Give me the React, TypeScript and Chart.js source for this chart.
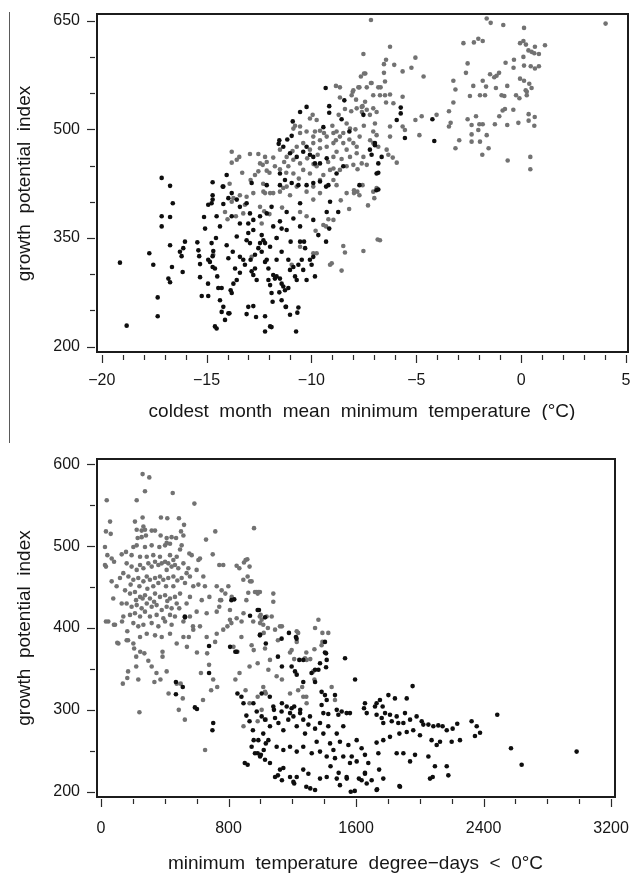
import React, { useEffect, useRef } from 'react';
import { Chart, registerables } from 'chart.js';

Chart.register(...registerables);

// ---------- Panel A: coldest month mean minimum temperature vs growth potential index ----------
const coldXTicks = [-20, -19, -18, -17, -16, -15, -14, -13, -12, -11, -10, -9, -8, -7, -6, -5, -4, -3, -2, -1, 0, 1, 2, 3, 4, 5];
const coldXLabels = [-20, -15, -10, -5, 0, 5];
const coldYTicks = [200, 250, 300, 350, 400, 450, 500, 550, 600, 650];
const coldYLabels = [200, 350, 500, 650];

const coldBlack: [number, number][] = [
  [-19.13, 316], [-18.81, 229], [-17.73, 329], [-17.54, 313], [-17.33, 268], [-17.33, 242], [-17.14, 380], [-17.14, 366],
  [-16.74, 379], [-16.74, 340], [-16.82, 294], [-16.74, 289], [-16.65, 310], [-16.61, 398], [-16.27, 331], [-16.19, 325],
  [-16.11, 336], [-16.03, 345], [-16.14, 303], [-17.14, 433], [-16.74, 422],
  [-15.44, 344], [-15.39, 333], [-15.35, 325], [-15.31, 314], [-15.31, 296], [-15.23, 270], [-15.12, 379], [-15.07, 363], [-14.93, 287],
  [-14.92, 320], [-14.84, 317], [-14.71, 310], [-14.68, 332], [-14.71, 325], [-14.6, 308], [-14.49, 297], [-14.44, 281], [-14.36, 264],
  [-14.28, 281], [-14.2, 255], [-14.12, 237], [-13.96, 246], [-13.85, 278], [-13.8, 274], [-13.72, 287], [-13.64, 308], [-13.56, 292],
  [-13.41, 324], [-13.41, 302], [-13.25, 320], [-13.17, 313], [-13.09, 347], [-13.01, 357], [-12.93, 343], [-12.9, 320], [-12.85, 304],
  [-12.77, 299], [-12.69, 308], [-12.61, 292], [-12.53, 336], [-12.45, 343], [-12.37, 331], [-12.29, 347], [-12.21, 343], [-12.21, 317],
  [-12.13, 320], [-12.05, 308], [-12.05, 292], [-11.97, 285], [-11.9, 274], [-11.85, 262], [-11.82, 299], [-11.74, 294], [-11.66, 297],
  [-11.5, 294], [-11.42, 287], [-11.34, 283], [-11.26, 278], [-11.21, 255], [-11.1, 281], [-11.02, 306], [-10.86, 310], [-10.78, 297],
  [-10.7, 292], [-10.62, 313], [-10.54, 345], [-10.46, 320], [-10.39, 306], [-10.35, 345], [-10.23, 292], [-10.07, 320], [-9.99, 313],
  [-9.91, 324], [-9.83, 297], [-9.67, 354], [-9.3, 345], [-9.15, 363],
  [-14.76, 343], [-14.55, 350], [-14.04, 340], [-13.56, 352], [-13.96, 322], [-13.75, 331], [-12.69, 327], [-12.37, 354], [-11.97, 338],
  [-11.66, 320], [-11.42, 331], [-11.1, 320], [-10.99, 345], [-10.3, 336], [-11.66, 350], [-12.77, 375], [-13.41, 370], [-13.8, 380],
  [-11.18, 361], [-10.54, 366],
  [-14.71, 409], [-14.76, 398], [-14.92, 396], [-14.52, 380], [-14.36, 366], [-14.2, 397], [-13.96, 405], [-13.56, 403], [-13.41, 393],
  [-13.09, 398], [-12.93, 384], [-13.01, 370], [-12.77, 361], [-12.45, 380], [-12.13, 384], [-11.9, 393], [-11.82, 366], [-11.5, 373],
  [-11.42, 363], [-11.18, 386], [-10.86, 377], [-10.54, 398], [-9.91, 375], [-9.27, 386], [-9.11, 400], [-8.72, 386], [-9.3, 421],
  [-11.5, 423], [-12.13, 423], [-12.85, 426], [-14.2, 421],
  [-14.92, 270], [-14.6, 228], [-14.52, 225], [-14.28, 248], [-13.91, 246], [-13.09, 245], [-13.01, 255], [-12.77, 256], [-12.64, 241],
  [-12.21, 242], [-12.21, 221], [-11.97, 228], [-11.9, 227], [-11.53, 275], [-11.42, 264], [-11.23, 255], [-11.02, 244], [-10.73, 221],
  [-10.67, 247], [-10.62, 254],
  [-7.71, 423], [-6.9, 416],
  [-9.32, 557], [-8.43, 540], [-10.23, 531], [-10.54, 524], [-9.15, 532], [-9.15, 523], [-10.89, 511], [-9.43, 503], [-8.56, 514],
  [-8.19, 497], [-6.97, 481], [-7.21, 472], [-6.89, 439], [-11.53, 485], [-11.15, 486], [-10.94, 491], [-11.56, 480], [-11.34, 476],
  [-11.02, 467], [-10.7, 462], [-10.39, 469], [-10.07, 465], [-9.83, 453], [-9.59, 453], [-10.23, 476], [-9.91, 462], [-9.27, 460],
  [-14.04, 437], [-14.71, 427], [-14.23, 421], [-13.8, 412], [-11.5, 439], [-11.26, 430], [-10.94, 426], [-10.62, 423], [-10.23, 423],
  [-9.91, 426], [-9.59, 428], [-9.19, 423], [-14.71, 403], [-8.8, 439], [-8.48, 449],
  [-5.74, 530], [-5.74, 522], [-5.93, 513], [-5.54, 488], [-4.23, 514], [-4.14, 484], [-7.52, 520], [-6.97, 478], [-7.13, 465],
  [-6.65, 462], [-6.81, 453], [-6.81, 440], [-6.81, 417],
];

const coldGray: [number, number][] = [
  [-7.16, 651], [-7.52, 604], [-7.64, 573], [-7.43, 577], [-7.13, 564], [-6.81, 558], [-8.83, 560], [-8.64, 558], [-8.03, 552],
  [-7.71, 558], [-7.36, 558], [-8.64, 544], [-7.87, 541], [-7.56, 532], [-7.44, 538], [-7.59, 524], [-7.36, 527], [-7.21, 520],
  [-7.05, 529], [-6.89, 524], [-9.94, 520], [-10.07, 515], [-10.78, 505], [-10.54, 504], [-9.75, 513], [-9.83, 497], [-9.59, 498],
  [-8.32, 508], [-8.16, 501], [-8.8, 497], [-8.95, 495], [-8.64, 490], [-8.48, 495], [-8.83, 485], [-8.95, 481], [-8.48, 481],
  [-8.19, 486], [-8.0, 481], [-7.84, 476], [-8.32, 472], [-8.8, 469], [-8.95, 462], [-8.56, 459], [-8.16, 462], [-7.84, 467],
  [-7.52, 462], [-7.6, 453], [-7.36, 451], [-8.0, 451], [-8.32, 449], [-8.64, 444], [-8.95, 446], [-7.05, 497], [-6.89, 492], [-6.97, 508],
  [-10.86, 501], [-10.54, 495], [-10.23, 497], [-9.91, 490], [-9.59, 485], [-9.27, 490], [-9.91, 481], [-9.59, 474], [-9.27, 476],
  [-10.39, 481], [-10.7, 476], [-10.07, 472],
  [-12.0, 440], [-11.3, 455], [-10.9, 470], [-10.2, 460], [-9.7, 465], [-9.4, 495], [-9.0, 505], [-8.7, 520], [-8.4, 528], [-8.1, 525],
  [-7.9, 500], [-7.7, 490], [-7.5, 505], [-7.2, 485], [-7.8, 445], [-9.2, 455], [-9.9, 452], [-10.6, 432], [-11.2, 440], [-12.3, 425],
  [-12.9, 430], [-13.3, 440], [-13.9, 425],
  [-13.8, 469], [-13.8, 454], [-13.44, 462], [-13.56, 458], [-12.93, 466], [-12.53, 466], [-12.21, 462], [-12.13, 455], [-11.82, 461],
  [-11.5, 472], [-11.18, 462], [-10.86, 458], [-10.54, 453], [-11.1, 449], [-10.86, 439], [-11.5, 445], [-11.74, 449], [-12.13, 443],
  [-12.53, 442], [-12.69, 437], [-12.32, 451], [-12.45, 453],
  [-10.39, 444], [-10.07, 439], [-9.75, 449], [-9.43, 437], [-9.11, 444], [-8.95, 430], [-9.59, 430], [-9.91, 421], [-10.23, 414],
  [-10.7, 421], [-11.18, 421], [-11.5, 414], [-11.97, 412], [-12.29, 414], [-12.77, 412], [-13.09, 407], [-13.41, 409], [-13.72, 405],
  [-14.12, 386], [-13.8, 400], [-13.17, 396], [-13.25, 384], [-12.45, 393], [-12.21, 412], [-11.82, 412], [-11.34, 419], [-11.02, 409],
  [-10.54, 386], [-10.23, 380], [-9.91, 403], [-9.59, 412], [-8.8, 423], [-8.32, 412], [-8.95, 375], [-9.43, 368], [-9.19, 376],
  [-14.68, 327], [-12.85, 324], [-12.37, 370], [-11.66, 350], [-10.94, 313], [-10.54, 338], [-9.91, 329], [-9.75, 329],
  [-7.97, 412], [-7.81, 414], [-7.56, 423], [-7.05, 414], [-6.73, 347], [-8.48, 339], [-8.4, 330], [-7.52, 332], [-8.56, 305],
  [-9.11, 313], [-9.03, 315],
  [-14.0, 376], [-13.6, 380], [-12.25, 387], [-12.0, 383], [-9.3, 366], [-9.8, 360], [-11.4, 392], [-8.6, 402], [-8.2, 390],
  [-7.3, 395], [-7.0, 405],
  [-6.25, 614], [-6.44, 596], [-6.54, 590], [-6.05, 589], [-5.04, 599], [-5.23, 585], [-5.65, 580], [-4.65, 573], [-7.49, 577],
  [-6.54, 578], [-7.16, 564], [-7.76, 558], [-6.7, 558], [-6.49, 566], [-6.73, 547], [-7.05, 547], [-6.49, 547], [-6.25, 548],
  [-6.09, 536], [-6.44, 537], [-7.6, 531], [-7.84, 529], [-8.0, 554], [-8.08, 547],
  [-5.65, 545], [-4.74, 518], [-5.04, 513], [-4.85, 492], [-4.03, 520], [-5.65, 504], [-5.54, 499], [-6.25, 504], [-6.25, 490],
  [-6.12, 461], [-5.93, 454], [-6.41, 472], [-6.33, 465], [-7.05, 481], [-6.81, 476],
  [-7.97, 416], [-7.71, 409], [-6.89, 419], [-6.84, 348],
  [-1.64, 653], [-1.45, 647], [-0.85, 644], [0.14, 640], [-2.75, 619], [-2.25, 620], [-2.04, 625], [-1.83, 622], [-0.05, 619],
  [0.11, 622], [0.23, 617], [0.35, 609], [0.5, 607], [0.66, 614], [0.63, 605], [0.85, 604], [1.14, 616], [0.11, 600],
  [-2.55, 591], [-2.63, 578], [-0.74, 592], [-0.34, 596], [-0.36, 585], [0.14, 588], [0.46, 587], [0.66, 584], [0.85, 587],
  [-3.23, 567], [-3.13, 555], [-2.28, 560], [-1.83, 567], [-1.67, 559], [-1.96, 547], [-1.72, 547], [-2.44, 546], [-1.48, 576],
  [-1.28, 572], [-1.17, 574], [-1.05, 578], [-1.2, 557], [-0.93, 547], [-0.8, 546], [-0.66, 560], [-0.24, 547], [-0.08, 543],
  [-0.05, 570], [0.14, 567], [0.22, 554], [0.39, 563], [0.5, 557], [0.27, 547], [0.27, 552],
  [-3.23, 537], [-3.44, 525], [-3.36, 509], [-3.44, 504], [-2.95, 485], [-3.13, 474], [-2.55, 514], [-2.15, 518], [-2.36, 506],
  [-1.99, 507], [-1.83, 507], [-2.04, 499], [-2.36, 493], [-2.36, 483], [-1.96, 483], [-1.64, 492], [-1.85, 465], [-1.55, 474],
  [-1.25, 507], [-1.04, 518], [-0.88, 526], [-0.77, 528], [-0.37, 527], [-0.66, 506], [-0.13, 509], [0.36, 521], [0.65, 517],
  [0.36, 512], [0.63, 505], [-0.64, 457], [0.44, 462], [0.44, 445],
  [4.03, 646],
];

// ---------- Panel B: minimum temperature degree-days < 0°C vs growth potential index ----------
const ddXTicks = [0, 200, 400, 600, 800, 1000, 1200, 1400, 1600, 1800, 2000, 2200, 2400, 2600, 2800, 3000, 3200];
const ddXLabels = [0, 800, 1600, 2400, 3200];
const ddYTicks = [200, 250, 300, 350, 400, 450, 500, 550, 600];
const ddYLabels = [200, 300, 400, 500, 600];

const ddGray: [number, number][] = [
  [36, 556], [261, 588], [303, 584], [276, 567], [224, 556], [450, 565], [586, 552], [57, 530], [61, 515], [31, 518], [213, 530],
  [261, 535], [376, 535], [416, 534], [489, 534], [224, 520], [255, 519], [276, 520], [318, 519], [339, 519], [266, 524], [230, 510],
  [255, 511], [282, 513], [374, 513], [412, 510], [443, 511], [471, 510], [517, 513], [502, 518], [521, 526], [659, 508], [717, 518], [960, 522],
  [25, 499], [40, 489], [25, 477], [31, 475], [67, 485], [82, 481], [130, 490], [157, 493], [203, 499], [224, 501], [276, 499],
  [318, 501], [366, 499], [402, 501], [412, 504], [433, 503], [506, 501], [496, 496], [554, 491], [569, 489], [611, 483], [621, 485],
  [701, 490], [742, 477], [767, 477], [851, 476], [868, 473], [897, 480], [918, 484], [893, 459], [935, 457], [977, 444], [997, 444],
  [1081, 442], [1081, 432],
  [161, 479], [192, 475], [224, 471], [245, 477], [266, 473], [297, 479], [318, 475], [339, 481], [360, 477], [381, 479], [402, 481],
  [422, 479], [443, 475], [464, 477], [485, 473],
  [172, 463], [203, 459], [234, 461], [266, 457], [287, 463], [307, 459], [339, 461], [370, 463], [391, 459], [422, 461], [454, 463],
  [479, 458], [506, 461], [527, 455],
  [151, 446], [182, 442], [213, 444], [245, 438], [276, 440], [307, 436], [339, 442], [370, 438], [402, 440], [433, 436], [464, 438], [496, 442],
  [161, 430], [192, 426], [224, 428], [255, 424], [287, 430], [318, 426], [349, 428], [381, 422], [412, 426], [443, 424], [475, 430],
  [182, 416], [213, 418], [245, 414], [276, 420], [307, 414], [349, 416], [391, 412], [433, 416], [464, 414],
  [203, 406], [234, 402], [266, 404], [318, 406], [360, 402], [402, 408], [443, 404], [517, 408], [558, 414], [600, 420], [663, 418],
  [726, 420], [809, 422], [851, 412], [882, 408],
  [241, 451], [328, 451], [408, 451], [186, 453], [360, 455], [291, 448], [454, 451], [220, 434], [333, 432], [416, 433], [261, 436],
  [491, 424], [537, 430], [558, 438], [579, 451], [537, 467], [558, 463], [600, 471], [642, 463], [611, 453], [652, 451], [680, 438],
  [632, 434], [726, 451], [757, 446], [747, 434], [799, 451], [820, 438], [809, 410], [767, 398], [726, 393], [663, 389], [621, 402],
  [579, 398], [517, 389], [475, 381], [433, 393], [381, 389], [339, 391], [287, 393], [245, 389], [203, 381], [161, 385], [109, 381],
  [46, 408], [88, 404], [140, 414], [130, 430], [98, 451], [119, 461], [140, 467], [67, 457], [77, 436], [412, 471], [454, 483],
  [433, 489], [475, 487], [517, 479], [548, 473], [370, 487], [328, 489], [287, 487], [245, 487], [192, 489],
  [31, 408], [81, 404], [102, 382], [132, 408], [165, 396], [170, 385], [208, 375], [221, 365], [246, 371], [221, 353], [170, 347],
  [165, 339], [137, 332], [234, 337], [241, 297], [272, 369], [297, 360], [318, 353], [348, 345], [335, 334], [373, 337], [386, 365],
  [412, 347], [424, 320], [386, 371], [475, 332], [488, 300], [526, 288], [513, 314], [500, 332], [539, 377], [551, 389], [577, 402],
  [602, 370], [627, 345], [640, 312], [653, 251], [678, 355], [691, 324], [704, 337], [729, 328], [666, 369], [716, 383], [742, 426],
  [754, 434], [780, 442], [793, 402], [818, 406], [831, 377], [856, 371], [869, 345], [843, 337], [881, 389], [894, 418], [912, 434],
  [920, 463], [932, 475], [907, 483], [945, 457], [983, 442], [996, 414], [1008, 410], [1021, 394], [958, 373], [983, 357], [932, 353],
  [907, 324], [932, 308], [983, 316], [1034, 320], [894, 280], [1047, 400], [1110, 385], [1135, 402], [1186, 370], [1212, 362],
  [1237, 394], [1288, 370], [1339, 374], [1364, 410], [1389, 394], [1313, 362], [1288, 316], [1262, 328], [1339, 337], [1389, 383],
  [1034, 288], [1008, 300], [983, 286], [1135, 337], [1186, 320], [1237, 324],
  [966, 444], [987, 444], [955, 408], [998, 406], [1018, 404], [1071, 414], [1123, 402], [1228, 396], [1228, 383], [1196, 373],
  [1280, 363], [1290, 361], [1332, 347], [1343, 400], [1384, 379], [1426, 394], [1468, 312], [1029, 322], [1018, 328], [1102, 341],
  [1060, 361], [1050, 349], [945, 379], [1029, 375], [1269, 316], [1290, 308], [1447, 328],
  [924, 443], [1002, 416], [1039, 414], [1092, 398],
];

const ddBlack: [number, number][] = [
  [991, 422], [1029, 413], [998, 392], [1133, 387], [1179, 394], [1223, 389], [1405, 383], [1412, 369], [1416, 361], [1412, 352],
  [1374, 357], [1364, 349], [1531, 363], [1594, 337], [1955, 329],
  [1244, 361], [1269, 361], [1196, 353], [1217, 347], [1228, 343], [1269, 334], [1321, 345], [1343, 349], [1343, 334],
  [1384, 322], [1405, 318], [1416, 312], [1384, 306], [1395, 296], [1426, 295], [1468, 318], [1479, 300], [1489, 294], [1510, 298],
  [1541, 296], [1562, 296],
  [1656, 308], [1650, 302], [1667, 296], [1719, 304], [1729, 308], [1750, 312], [1767, 304], [1803, 318], [1844, 314], [1918, 314],
  [1907, 296], [1855, 292], [1813, 294], [1782, 296], [1761, 290], [1729, 294], [1771, 284], [1824, 286], [1865, 284], [1897, 284],
  [1939, 288], [1980, 292], [2012, 286], [2022, 282], [2054, 282], [2085, 280], [2116, 281], [2143, 280], [2169, 275], [2206, 277],
  [2235, 283], [2252, 263], [2200, 261], [2127, 261], [2106, 257], [2074, 263], [2001, 269], [1959, 275], [1918, 273], [1872, 271],
  [1813, 267], [1771, 263], [1729, 260], [1740, 247], [1855, 247], [1897, 247], [1939, 237], [1970, 245], [2054, 243], [2095, 231],
  [2169, 231], [2179, 220], [2064, 216], [2081, 218], [2325, 286], [2357, 280], [2378, 272], [2346, 268], [2486, 294], [2572, 253],
  [2639, 233], [2984, 249],
  [956, 308], [977, 298], [1008, 292], [1029, 288], [1060, 280], [1081, 304], [1092, 290], [1113, 284], [1133, 298], [1144, 275],
  [1165, 304], [1175, 288], [1196, 302], [1207, 292], [1228, 280], [1249, 296], [1269, 288], [1280, 271], [1301, 282], [1311, 292],
  [1343, 277], [1353, 261], [1374, 284], [1395, 271], [1426, 280], [1437, 259], [1458, 251], [1479, 271], [1499, 261], [1520, 280],
  [1552, 257], [1573, 243], [1604, 263], [1635, 253], [1656, 245], [1677, 235], [1656, 222], [1635, 214], [1667, 210], [1698, 214],
  [1729, 202], [1562, 235], [1604, 237], [1479, 216], [1541, 218], [1499, 208], [1416, 218], [1374, 216], [1343, 202], [1301, 222],
  [1269, 227], [1228, 218], [1207, 212], [1186, 218], [1144, 229], [1123, 227], [1092, 218], [1060, 235], [1029, 239], [998, 243],
  [966, 247], [945, 255], [987, 263], [1018, 271], [1050, 263], [1102, 255], [1144, 251], [1186, 255], [1228, 249], [1269, 255],
  [1322, 247], [1374, 249], [1416, 243], [1468, 241], [1520, 243], [1771, 216], [1876, 206],
  [1567, 200], [1592, 201], [1732, 203], [1872, 207], [1656, 223], [1542, 216], [1491, 223], [1618, 216], [1288, 206], [1313, 204],
  [1212, 210], [1135, 214], [1110, 220], [1440, 231], [1745, 227],
  [881, 316], [894, 308], [912, 293], [932, 286], [953, 275], [902, 235], [920, 233], [983, 247], [958, 263], [1003, 245], [1021, 251],
  [1034, 259], [856, 320], [818, 434], [843, 371], [810, 377], [678, 378], [699, 275], [704, 284], [678, 345], [602, 301], [470, 334],
  [470, 319], [513, 328], [526, 414], [589, 303],
  [983, 422], [1034, 381], [1110, 365], [1135, 353], [836, 435], [527, 413], [935, 415], [997, 391], [1227, 387], [1405, 370], [851, 371],
  [1008, 320], [1059, 316], [1085, 300], [1135, 308], [1186, 296], [1212, 304], [1250, 300],
];

// ---------- drawing ----------
const FONT_FAMILY = "'Liberation Sans', Arial, Helvetica, sans-serif";
const TEXT = '#161616';
const GRAY = '#727272';
const BLACK = '#0e0e0e';

const fmt = (v: number) => (v < 0 ? '\u2212' + Math.abs(v) : String(v));

type PanelProps = {
  top: number;
  height: number;
  black: [number, number][];
  gray: [number, number][];
  xTicks: number[];
  xLabels: number[];
  yTicks: number[];
  yLabels: number[];
  xMin: number;
  xMax: number;
  yMin: number;
  yMax: number;
  padTop: number;
  padRight: number;
  xAxisHeight: number;
  xLabelPad: number;
  xTitle: string;
  xTitlePadBottom: number;
  frameInset: { l: number; t: number; r: number; b: number };
};

function ScatterPanel(p: PanelProps) {
  const ref = useRef<HTMLCanvasElement | null>(null);

  useEffect(() => {
    const canvas = ref.current;
    if (!canvas) return;

    const frameTicks = {
      id: 'frameTicks',
      afterDraw(chart: any) {
        const { ctx, chartArea: ca } = chart;
        ctx.save();
        ctx.strokeStyle = '#1c1c1c';
        ctx.lineWidth = 2;
        const l = ca.left + p.frameInset.l;
        const t = ca.top + p.frameInset.t;
        const r = ca.right - p.frameInset.r;
        const b = ca.bottom - p.frameInset.b;
        ctx.strokeRect(l, t, r - l, b - t);
        ctx.strokeStyle = '#2a2a2a';
        ctx.lineWidth = 1.2;
        const xs = chart.scales.x;
        xs.ticks.forEach((tk: any) => {
          const px = Math.round(xs.getPixelForValue(tk.value)) + 0.5;
          const len = p.xLabels.includes(tk.value) ? 8 : 5;
          ctx.beginPath();
          ctx.moveTo(px, ca.bottom + 1);
          ctx.lineTo(px, ca.bottom + 1 + len);
          ctx.stroke();
        });
        const ys = chart.scales.y;
        ys.ticks.forEach((tk: any) => {
          const py = Math.round(ys.getPixelForValue(tk.value)) + 0.5;
          const len = p.yLabels.includes(tk.value) ? 8 : 5;
          ctx.beginPath();
          ctx.moveTo(ca.left, py);
          ctx.lineTo(ca.left - len, py);
          ctx.stroke();
        });
        ctx.restore();
      },
    };

    const chart = new Chart(canvas, {
      type: 'scatter',
      data: {
        datasets: [
          {
            data: p.black.map(([x, y]) => ({ x, y })),
            backgroundColor: BLACK,
            borderWidth: 0,
            pointRadius: 2.3,
            pointHoverRadius: 2.3,
          },
          {
            data: p.gray.map(([x, y]) => ({ x, y })),
            backgroundColor: GRAY,
            borderWidth: 0,
            pointRadius: 2.3,
            pointHoverRadius: 2.3,
          },
        ],
      },
      options: {
        animation: false,
        responsive: false,
        devicePixelRatio: 1,
        events: [],
        clip: false as any,
        layout: { padding: { top: p.padTop, right: p.padRight, left: 0, bottom: 0 } },
        plugins: { legend: { display: false }, tooltip: { enabled: false } },
        scales: {
          x: {
            type: 'linear',
            min: p.xMin,
            max: p.xMax,
            afterBuildTicks: (s: any) => {
              s.ticks = p.xTicks.map((v) => ({ value: v }));
            },
            afterFit: (s: any) => {
              s.height = p.xAxisHeight;
            },
            grid: { display: false, drawTicks: true, tickLength: p.xLabelPad },
            border: { display: false },
            ticks: {
              autoSkip: false,
              maxRotation: 0,
              padding: 0,
              color: TEXT,
              font: { family: FONT_FAMILY, size: 16 },
              callback: (v: any) => (p.xLabels.includes(Number(v)) ? fmt(Number(v)) : ''),
            },
            title: {
              display: true,
              text: p.xTitle,
              color: TEXT,
              font: { family: FONT_FAMILY, size: 19, lineHeight: 1 },
              padding: { top: 0, bottom: p.xTitlePadBottom },
            },
          },
          y: {
            type: 'linear',
            min: p.yMin,
            max: p.yMax,
            afterBuildTicks: (s: any) => {
              s.ticks = p.yTicks.map((v) => ({ value: v }));
            },
            afterFit: (s: any) => {
              s.width = 95;
            },
            grid: { display: false, drawTicks: true, tickLength: 15 },
            border: { display: false },
            ticks: {
              autoSkip: false,
              padding: 0,
              color: TEXT,
              font: { family: FONT_FAMILY, size: 16 },
              callback: (v: any) => (p.yLabels.includes(Number(v)) ? fmt(Number(v)) : ''),
            },
            title: {
              display: true,
              text: 'growth  potential  index',
              color: TEXT,
              font: { family: FONT_FAMILY, size: 19, lineHeight: 1 },
              padding: { top: 15.5, bottom: 0 },
            },
          },
        },
      } as any,
      plugins: [frameTicks],
    });

    return () => chart.destroy();
  }, []);

  return (
    <canvas
      ref={ref}
      width={632}
      height={p.height}
      style={{ position: 'absolute', left: 0, top: p.top, width: 632, height: p.height, display: 'block' }}
    />
  );
}

export default function App() {
  useEffect(() => {
    document.body.style.margin = '0';
    document.body.style.background = '#ffffff';
  }, []);

  return (
    <div style={{ position: 'relative', width: 632, height: 874, background: '#ffffff', overflow: 'hidden' }}>
      <div style={{ position: 'absolute', left: 9, top: 12, width: 1, height: 431, background: '#5a5a5a' }} />
      <ScatterPanel
        top={0}
        height={420}
        black={coldBlack}
        gray={coldGray}
        xTicks={coldXTicks}
        xLabels={coldXLabels}
        yTicks={coldYTicks}
        yLabels={coldYLabels}
        xMin={-20.32}
        xMax={5.146}
        yMin={189.9}
        yMax={660.6}
        padTop={13}
        padRight={3}
        xAxisHeight={66}
        xLabelPad={17}
        xTitle={'coldest  month  mean  minimum  temperature  (\u00B0C)'}
        xTitlePadBottom={-1}
        frameInset={{ l: 2, t: 1, r: 1, b: 2 }}
      />
      <ScatterPanel
        top={420}
        height={454}
        black={ddBlack}
        gray={ddGray}
        xTicks={ddXTicks}
        xLabels={ddXLabels}
        yTicks={ddYTicks}
        yLabels={ddYLabels}
        xMin={-37.6}
        xMax={3230.9}
        yMin={192.3}
        yMax={607.7}
        padTop={38}
        padRight={16}
        xAxisHeight={76}
        xLabelPad={21}
        xTitle={'minimum  temperature  degree\u2212days  <  0\u00B0C'}
        xTitlePadBottom={1}
        frameInset={{ l: 2, t: 1, r: 1, b: 1 }}
      />
    </div>
  );
}
